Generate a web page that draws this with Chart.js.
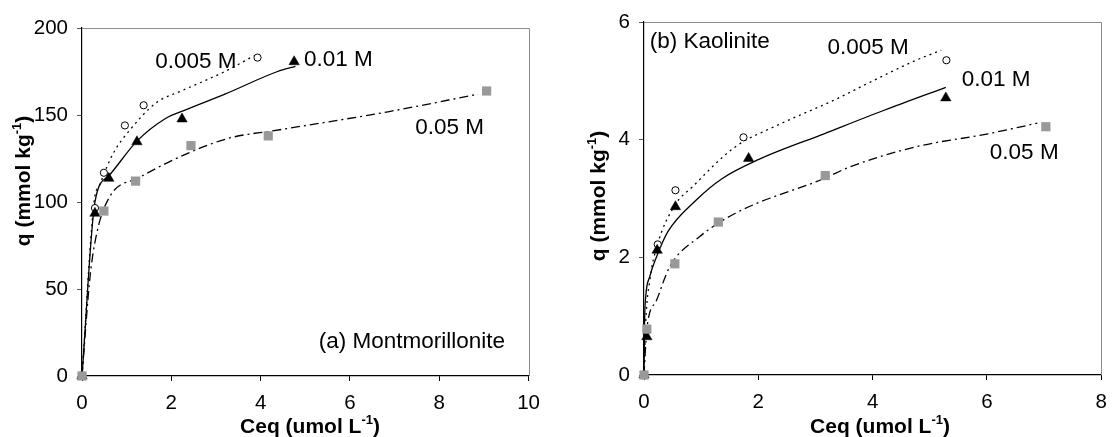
<!DOCTYPE html>
<html>
<head>
<meta charset="utf-8">
<script src="https://cdn.jsdelivr.net/npm/chart.js@4.4.1/dist/chart.umd.min.js"></script>
<style>
  html, body { margin: 0; padding: 0; background: #fff; }
  #wrap { position: relative; width: 1117px; height: 437px; overflow: hidden; }
  canvas { position: absolute; top: 0; }
  #ca { left: 0; }
  #cb { left: 558px; }
</style>
</head>
<body>
<div id="wrap">
  <canvas id="ca" width="550" height="437"></canvas>
  <canvas id="cb" width="559" height="437"></canvas>
</div>
<script>
// ---------- (a) Montmorillonite : measured points ----------
const a005X = [0, 0.29, 0.49, 0.96, 1.38, 3.93];
const a005Y = [0, 96.5, 116.8, 144, 155.6, 183];
const a01X  = [0, 0.29, 0.6, 1.23, 2.24, 4.75];
const a01Y  = [0, 93.5, 113.6, 134.6, 147.7, 180.6];
const a05X  = [0, 0.49, 1.2, 2.44, 4.17, 9.06];
const a05Y  = [0, 94.8, 112, 132.4, 138, 163.8];
// ---------- (a) model curves ----------
const aFit005X = [0, 0.27, 0.4, 0.7, 1.06, 1.66, 2.24, 3.2, 3.85];
const aFit005Y = [0, 100, 110, 128, 141, 157, 164, 175, 184];
const aFit01X  = [0, 0.29, 0.6, 1.23, 1.87, 2.32, 3.2, 4.38, 4.78];
const aFit01Y  = [0, 100, 115, 135, 148, 153, 162, 175, 178];
const aFit05X  = [0, 0.18, 0.33, 0.62, 1.28, 2.46, 3.34, 4.3, 6.88, 8.87];
const aFit05Y  = [0, 57, 82, 103, 114, 129, 137, 141, 152, 162];

// ---------- (b) Kaolinite : measured points ----------
const b005X = [0, 0.05, 0.24, 0.55, 1.74, 5.29];
const b005Y = [0, 0.76, 2.22, 3.14, 4.04, 5.35];
const b01X  = [0, 0.05, 0.23, 0.55, 1.83, 5.28];
const b01Y  = [0, 0.65, 2.12, 2.86, 3.68, 4.71];
const b05X  = [0, 0.05, 0.54, 1.3, 3.17, 7.03];
const b05Y  = [0, 0.78, 1.89, 2.6, 3.39, 4.22];
// ---------- (b) model curves ----------
const bFit005X = [0, 0.03, 0.1, 0.23, 0.55, 0.85, 1.43, 1.74, 2.12, 2.57, 3.32, 3.9, 4.76, 5.2];
const bFit005Y = [0, 0.9, 1.6, 2.2, 2.9, 3.2, 3.75, 3.97, 4.15, 4.35, 4.67, 4.95, 5.35, 5.52];
const bFit01X  = [0, 0.01, 0.03, 0.1, 0.22, 0.42, 0.91, 1.37, 2.0, 3.15, 4.2, 5.28];
const bFit01Y  = [0, 0.9, 1.33, 1.67, 2.01, 2.44, 2.97, 3.34, 3.66, 4.1, 4.5, 4.89];
const bFit05X  = [0, 0.05, 0.22, 0.45, 0.97, 1.6, 3.15, 3.61, 4.76, 6.02, 6.88];
const bFit05Y  = [0, 0.78, 1.27, 1.84, 2.35, 2.75, 3.34, 3.54, 3.88, 4.1, 4.28];

// ---------- labels ----------
const seriesNames = ['0.005 M', '0.01 M', '0.05 M'];
const aTicksX = [0, 2, 4, 6, 8, 10];
const aTicksY = [0, 50, 100, 150, 200];
const bTicksX = [0, 2, 4, 6, 8];
const bTicksY = [0, 2, 4, 6];
const xTitle = ['Ceq (umol L', '-1', ')'];
const yTitle = ['q (mmol kg', '-1', ')'];

const FONT = 'Arial, "Liberation Sans", Helvetica, sans-serif';

function pts(xs, ys) { return xs.map((x, i) => ({ x: x, y: ys[i] })); }

// Chart.js paints the first dataset last (on top), so markers come first.
function datasets(p005x, p005y, p01x, p01y, p05x, p05y, f005x, f005y, f01x, f01y, f05x, f05y) {
  const lineBase = { showLine: true, pointRadius: 0, pointHoverRadius: 0, borderColor: '#000',
                     borderWidth: 1.3, cubicInterpolationMode: 'monotone', fill: false };
  return [
    { label: seriesNames[2], data: pts(p05x, p05y), showLine: false, pointStyle: 'rect', clip: false,
      pointRadius: 6.5, pointBackgroundColor: '#999', pointBorderColor: '#999', pointBorderWidth: 0 },
    { label: seriesNames[1], data: pts(p01x, p01y), showLine: false, pointStyle: 'triangle', clip: false,
      pointRadius: 6, pointBackgroundColor: '#000', pointBorderColor: '#000', pointBorderWidth: 0.5 },
    { label: seriesNames[0], data: pts(p005x, p005y), showLine: false, pointStyle: 'circle', clip: false,
      pointRadius: 3.6, pointBackgroundColor: '#fff', pointBorderColor: '#000', pointBorderWidth: 1 },
    Object.assign({ label: seriesNames[0] + ' fit', data: pts(f005x, f005y), borderDash: [2, 4] }, lineBase),
    Object.assign({ label: seriesNames[1] + ' fit', data: pts(f01x, f01y), borderDash: [] }, lineBase),
    Object.assign({ label: seriesNames[2] + ' fit', data: pts(f05x, f05y), borderDash: [9, 4, 2, 4] }, lineBase)
  ];
}

function drawSuper(ctx, parts, size) {
  const big = 'bold ' + size + 'px ' + FONT;
  const small = 'bold ' + Math.round(size * 0.62) + 'px ' + FONT;
  ctx.font = big; const w0 = ctx.measureText(parts[0]).width;
  const w2 = ctx.measureText(parts[2]).width;
  ctx.font = small; const w1 = ctx.measureText(parts[1]).width;
  let x = -(w0 + w1 + w2) / 2;
  ctx.textBaseline = 'alphabetic'; ctx.textAlign = 'left';
  ctx.font = big; ctx.fillText(parts[0], x, size * 0.36); x += w0;
  ctx.font = small; ctx.fillText(parts[1], x, size * 0.36 - size * 0.42); x += w1;
  ctx.font = big; ctx.fillText(parts[2], x, size * 0.36);
}

const decor = {
  id: 'decor',
  beforeDatasetsDraw(chart, args, opts) {
    const ctx = chart.ctx, a = chart.chartArea;
    ctx.save();
    ctx.strokeStyle = '#8c8c8c'; ctx.lineWidth = 1;
    ctx.beginPath();
    ctx.moveTo(a.left, Math.round(a.top) + 0.5);
    ctx.lineTo(Math.round(a.right) + 0.5, Math.round(a.top) + 0.5);
    ctx.lineTo(Math.round(a.right) + 0.5, a.bottom);
    ctx.stroke();
    ctx.restore();
  },
  afterDraw(chart, args, opts) {
    const ctx = chart.ctx, xs = chart.scales.x, ys = chart.scales.y;
    ctx.save();
    ctx.fillStyle = '#000';
    ctx.font = opts.annoSize + 'px ' + FONT;
    ctx.textAlign = 'left'; ctx.textBaseline = 'middle';
    opts.texts.forEach(t => {
      ctx.fillText(t.text, xs.getPixelForValue(t.x), ys.getPixelForValue(t.y));
    });
    ctx.save();
    ctx.translate(opts.xTitlePos[0], opts.xTitlePos[1]);
    drawSuper(ctx, xTitle, opts.titleSize);
    ctx.restore();
    ctx.save();
    ctx.translate(opts.yTitlePos[0], opts.yTitlePos[1]);
    ctx.rotate(-Math.PI / 2);
    drawSuper(ctx, yTitle, opts.titleSize);
    ctx.restore();
    ctx.restore();
  }
};

function makeChart(id, ds, xMax, xTicks, yMax, yTicks, yW, xH, pad, decorOpts) {
  return new Chart(document.getElementById(id), {
    type: 'scatter',
    data: { datasets: ds },
    plugins: [decor],
    options: {
      responsive: false, animation: false, events: [],
      layout: { padding: pad },
      plugins: { legend: { display: false }, tooltip: { enabled: false }, decor: decorOpts },
      scales: {
        x: {
          type: 'linear', min: 0, max: xMax,
          afterFit(s) { s.height = xH; },
          afterBuildTicks(s) { s.ticks = xTicks.map(v => ({ value: v })); },
          grid: { display: true, drawOnChartArea: false, drawTicks: true, tickLength: 5, color: '#000', lineWidth: 1 },
          border: { display: true, color: '#000', width: 1.2 },
          ticks: { color: '#000', font: { family: FONT, size: 20.5 }, padding: 10, maxRotation: 0 }
        },
        y: {
          type: 'linear', min: 0, max: yMax,
          afterFit(s) { s.width = yW; },
          afterBuildTicks(s) { s.ticks = yTicks.map(v => ({ value: v })); },
          grid: { display: true, drawOnChartArea: false, drawTicks: true, tickLength: 5, color: '#555', lineWidth: 1 },
          border: { display: true, color: '#000', width: 1.2 },
          ticks: { color: '#000', font: { family: FONT, size: 20.5 }, padding: 9 }
        }
      }
    }
  });
}

makeChart('ca',
  datasets(a005X, a005Y, a01X, a01Y, a05X, a05Y, aFit005X, aFit005Y, aFit01X, aFit01Y, aFit05X, aFit05Y),
  10, aTicksX, 200, aTicksY, 82, 61, { top: 28, right: 15, left: 0, bottom: 0 },
  { annoSize: 22.5, titleSize: 21, xTitlePos: [310, 425], yTitlePos: [22, 181],
    texts: [
      { text: '0.005 M', x: 1.64, y: 180.5 },
      { text: '0.01 M', x: 4.97, y: 181.6 },
      { text: '0.05 M', x: 7.46, y: 142.7 },
      { text: '(a) Montmorillonite', x: 5.3, y: 19.7 }
    ] });

makeChart('cb',
  datasets(b005X, b005Y, b01X, b01Y, b05X, b05Y, bFit005X, bFit005Y, bFit01X, bFit01Y, bFit05X, bFit05Y),
  8, bTicksX, 6, bTicksY, 86, 62, { top: 22, right: 8, left: 0, bottom: 0 },
  { annoSize: 22.5, titleSize: 21, xTitlePos: [880 - 558, 425], yTitlePos: [597 - 558, 196],
    texts: [
      { text: '(b) Kaolinite', x: 0.1, y: 5.66 },
      { text: '0.005 M', x: 3.21, y: 5.56 },
      { text: '0.01 M', x: 5.56, y: 5.01 },
      { text: '0.05 M', x: 6.05, y: 3.77 }
    ] });
</script>
</body>
</html>
